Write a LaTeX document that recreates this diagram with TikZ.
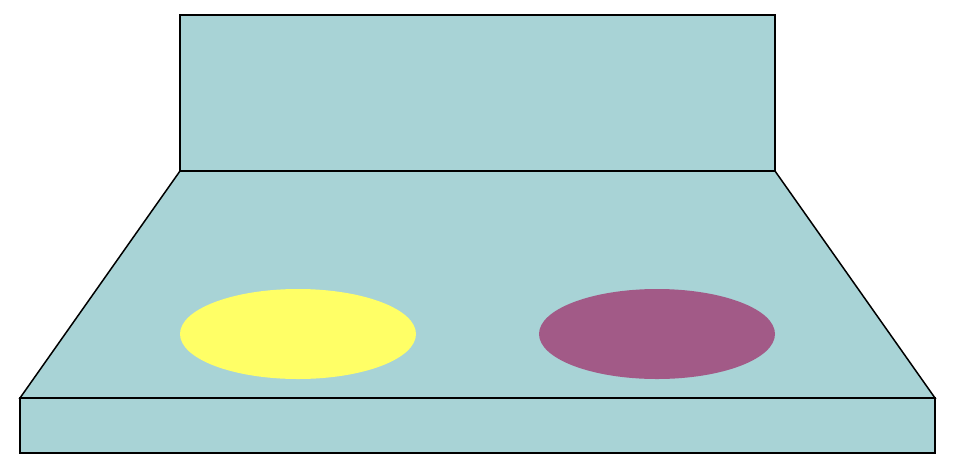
\documentclass[tikz,border=0pt]{standalone}
\definecolor{teal}{HTML}{A8D3D6}
\definecolor{yel}{HTML}{FFFF66}
\definecolor{plum}{HTML}{A25A87}
\tikzset{face/.style={fill=teal,draw=black,line width=1.5pt,line join=miter}}
\begin{document}
\begin{tikzpicture}[x=1pt,y=-1pt]
\useasboundingbox (0,0) rectangle (959,467);
\coordinate (bl) at (180,15);
\coordinate (br) at (775,171);
\draw[face] (bl) rectangle (br);
\coordinate (t1) at (180,171);
\coordinate (t2) at (775,171);
\coordinate (b2) at (935,398);
\coordinate (b1) at (20,398);
\draw[face] (t1) -- (t2) -- (b2) -- (b1) -- cycle;
\coordinate (f1) at (20,398);
\coordinate (f2) at (935,453);
\draw[face] (f1) rectangle (f2);
\fill[yel] (298,334) ellipse [x radius=118, y radius=45];
\fill[plum] (657,334) ellipse [x radius=118, y radius=45];
\end{tikzpicture}
\end{document}
